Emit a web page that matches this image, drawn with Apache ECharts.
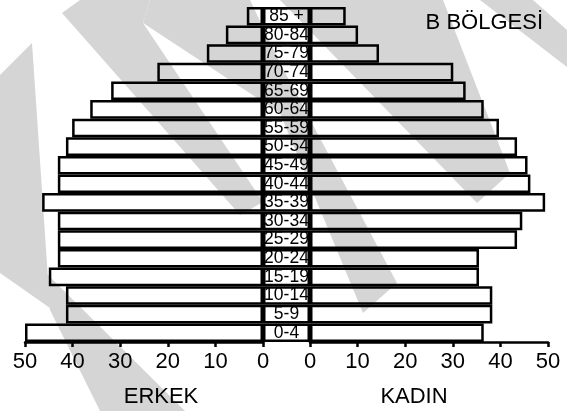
<!DOCTYPE html>
<html>
<head>
<meta charset="utf-8">
<script src="https://cdn.jsdelivr.net/npm/echarts@6/dist/echarts.min.js"></script>
<style>
html,body{margin:0;padding:0;background:#fff;}
#chart{width:567px;height:411px;}
</style>
</head>
<body>
<div id="chart"></div>
<script>
// Age groups, bottom to top
const ages = ['0-4','5-9','10-14','15-19','20-24','25-29','30-34','35-39','40-44','45-49','50-54','55-59','60-64','65-69','70-74','75-79','80-84','85 +'];
// ERKEK (male) values
const erkek = [50.0, 41.4, 41.4, 45.0, 43.1, 43.1, 43.1, 46.4, 43.1, 43.1, 41.4, 40.1, 36.3, 31.9, 22.2, 11.8, 7.8, 3.4];
// KADIN (female) values
const kadin = [36.5, 38.3, 38.3, 35.5, 35.5, 43.5, 44.6, 49.4, 46.3, 45.7, 43.5, 39.7, 36.5, 32.7, 30.1, 14.5, 10.1, 7.5];
// Middle label column (one full cell per age group)
const labelCells = ages.map(() => 1);
const axisMin = 0, axisMax = 50, axisStep = 10;
const titleText = 'B BÖLGESİ';
const leftName = 'ERKEK';
const rightName = 'KADIN';

const FONT = '"Liberation Sans", Arial, Helvetica, sans-serif';
const WM = '#d5d5d5';

const chart = echarts.init(document.getElementById('chart'), null, {renderer: 'canvas'});

function valueAxis(grid, inverse) {
  return {
    type: 'value', gridIndex: grid, min: axisMin, max: axisMax, interval: axisStep, inverse: inverse,
    axisLine: {show: true, lineStyle: {color: '#000', width: 2.5}},
    axisTick: {show: true, length: 5, lineStyle: {color: '#000', width: 2.5}},
    axisLabel: {fontSize: 22, color: '#000', margin: 9, fontFamily: FONT},
    splitLine: {show: false}
  };
}
function catAxis(grid) {
  return {type: 'category', gridIndex: grid, data: ages, show: false};
}
const barStyle = {color: 'rgba(0,0,0,0)', borderColor: '#000', borderWidth: 2.5};

function wm(points) {
  return {type: 'polygon', z: -10, silent: true, shape: {points: points}, style: {fill: WM}};
}

const option = {
  backgroundColor: '#fff',
  animation: false,
  title: {
    text: titleText, right: 19, top: 7,
    textStyle: {fontSize: 22, fontWeight: 'normal', color: '#000', fontFamily: FONT}
  },
  grid: [
    {left: 25, width: 238, top: 7, height: 335},
    {left: 263, width: 47, top: 7, height: 335},
    {left: 310, width: 238, top: 7, height: 335}
  ],
  xAxis: [
    valueAxis(0, true),
    {type: 'value', gridIndex: 1, min: 0, max: 1, show: false},
    valueAxis(2, false)
  ],
  yAxis: [catAxis(0), catAxis(1), catAxis(2)],
  graphic: [
    wm([[0,75],[32,43],[50,308],[0,273]]),
    wm([[45,272],[185,411],[100,411],[50,310]]),
    wm([[62,13],[80,0],[150,0],[143,23],[263,202],[240,215]]),
    wm([[143,23],[150,0],[250,0],[280,63],[397,283],[363,313],[280,113]]),
    wm([[280,0],[443,0],[510,173],[477,203]]),
    wm([[480,0],[533,0],[567,30],[567,67]]),
    {type: 'text', z: 10, silent: true, style: {text: leftName, x: 161, y: 397, fill: '#000', font: '22px ' + FONT, align: 'center', verticalAlign: 'middle', textAlign: 'center', textVerticalAlign: 'middle'}},
    {type: 'text', z: 10, silent: true, style: {text: rightName, x: 414, y: 397, fill: '#000', font: '22px ' + FONT, align: 'center', verticalAlign: 'middle', textAlign: 'center', textVerticalAlign: 'middle'}}
  ],
  series: [
    {type: 'bar', xAxisIndex: 0, yAxisIndex: 0, data: erkek, barCategoryGap: '0%', clip: false, itemStyle: barStyle},
    {type: 'bar', xAxisIndex: 1, yAxisIndex: 1, data: labelCells, barCategoryGap: '0%', clip: false, itemStyle: barStyle,
     label: {show: true, position: 'inside', formatter: p => ages[p.dataIndex], fontSize: 17.5, color: '#000', fontFamily: FONT}},
    {type: 'bar', xAxisIndex: 2, yAxisIndex: 2, data: kadin, barCategoryGap: '0%', clip: false, itemStyle: barStyle}
  ]
};
chart.setOption(option);
</script>
</body>
</html>
